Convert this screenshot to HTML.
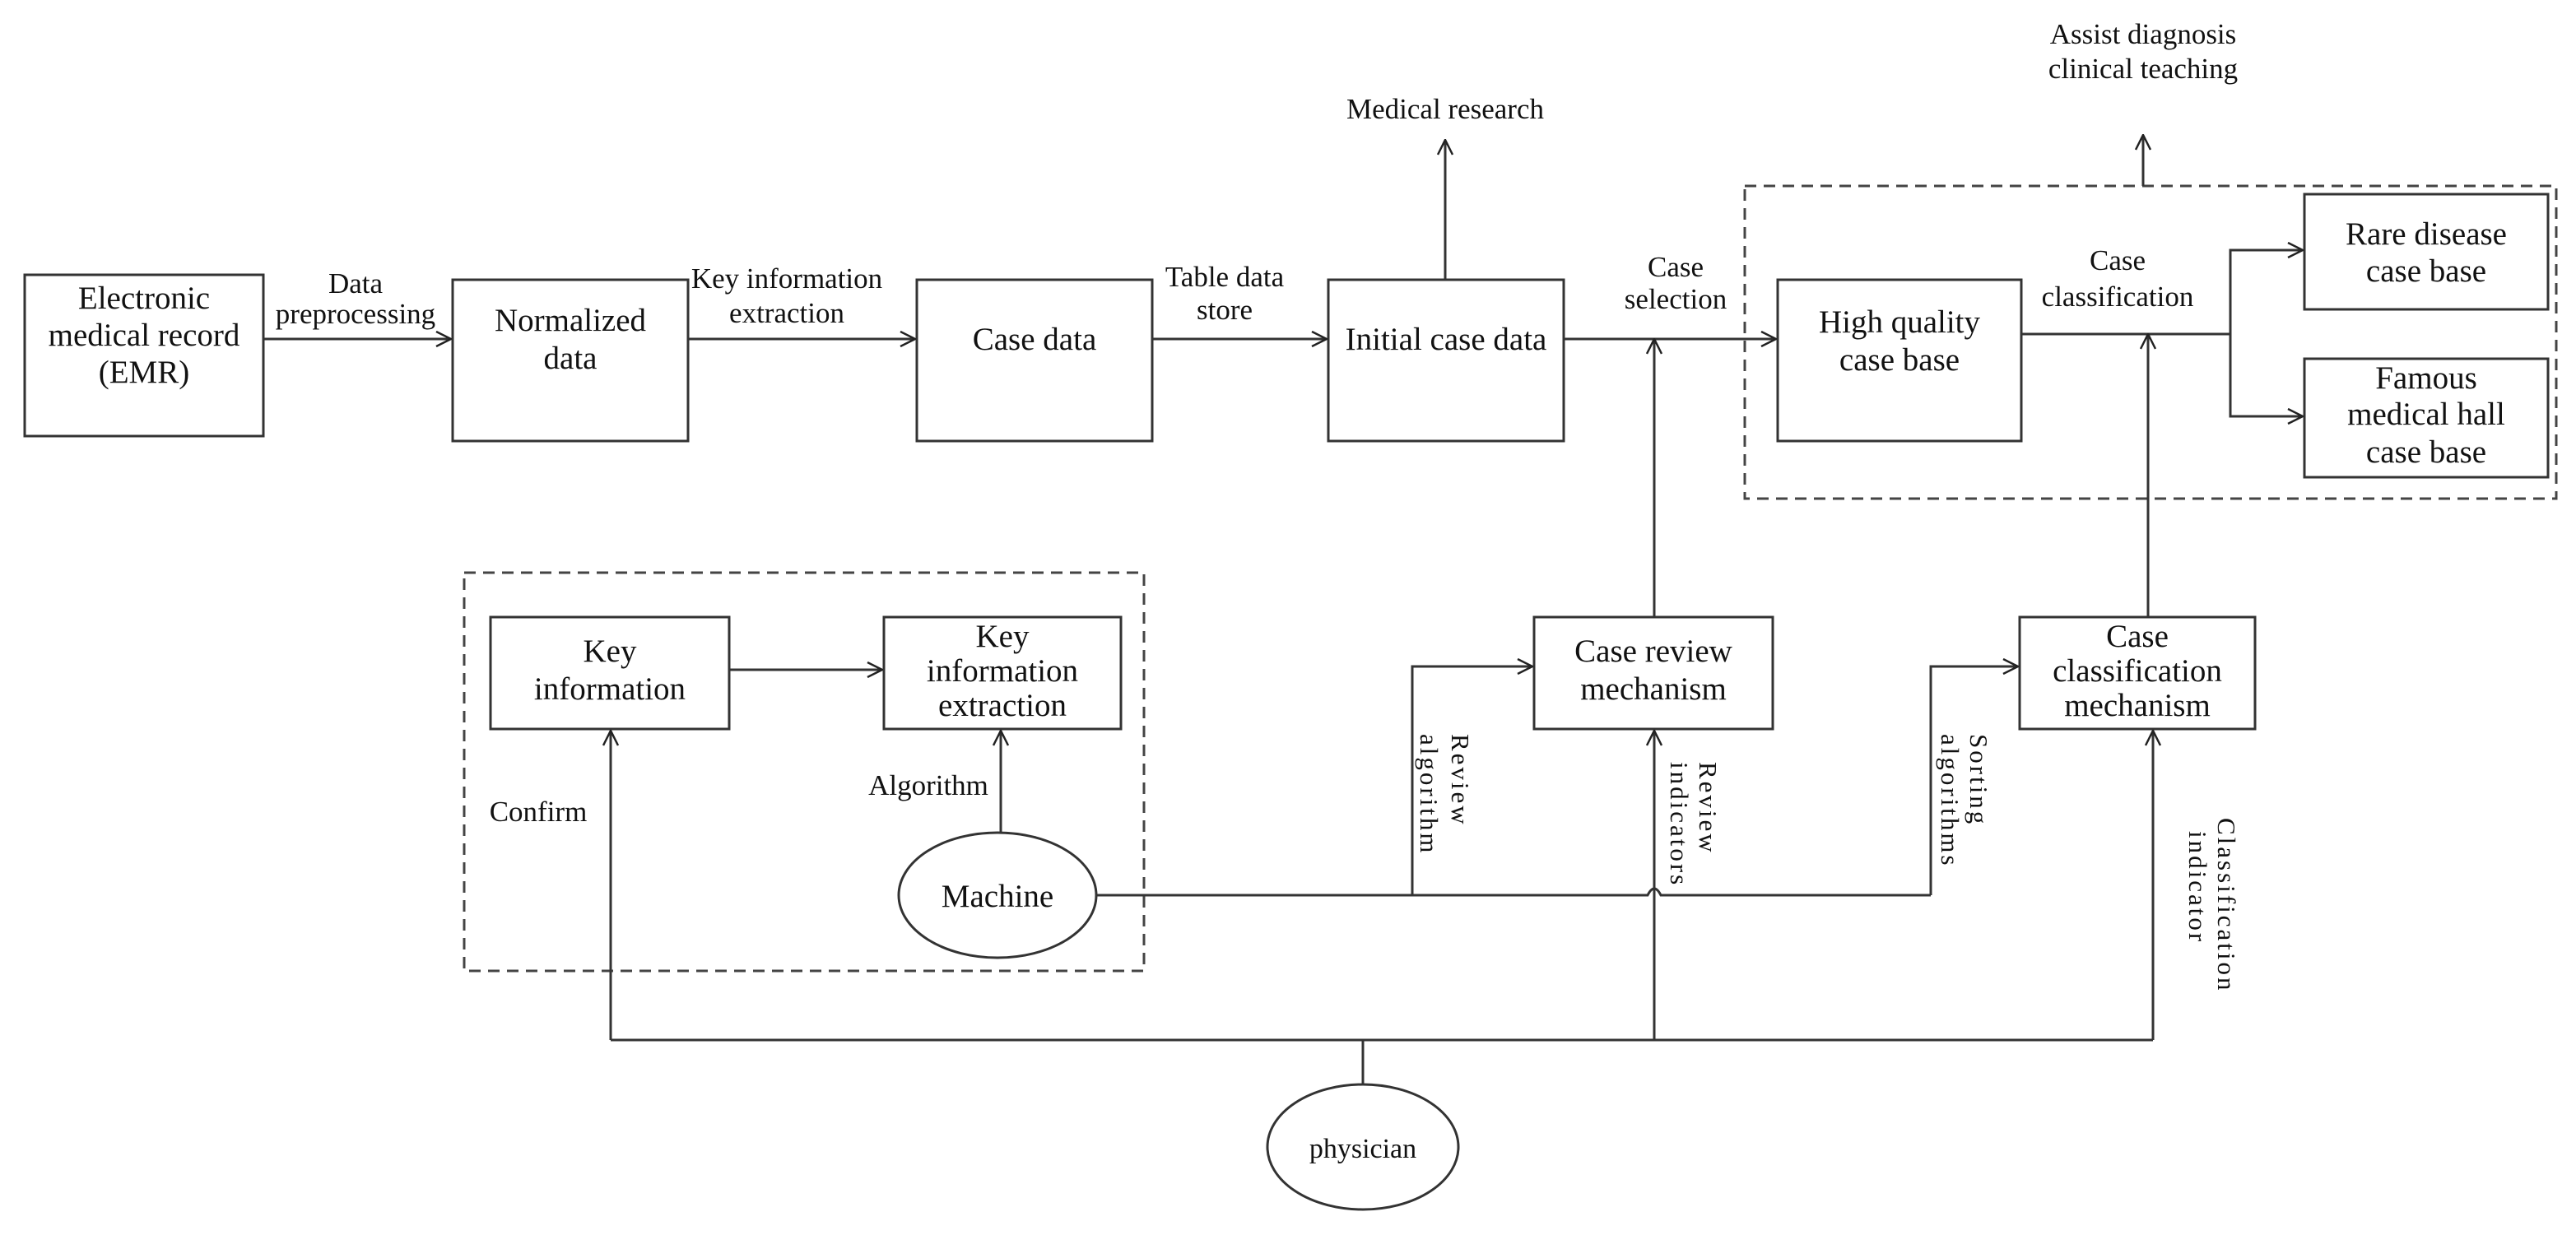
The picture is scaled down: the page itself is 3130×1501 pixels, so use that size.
<!DOCTYPE html>
<html><head><meta charset="utf-8"><style>
html,body{margin:0;padding:0;background:#fff;}
svg{display:block;}
text{font-family:"Liberation Serif",serif;fill:#111;}
.n{font-size:39px;}
.l{font-size:35px;}
.v{font-size:31px;letter-spacing:3px;}
</style></head><body>
<svg width="3130" height="1501" viewBox="0 0 3130 1501" xmlns="http://www.w3.org/2000/svg">
<defs>
<marker id="a" viewBox="0 0 20 20" refX="19" refY="10" markerWidth="20" markerHeight="20" markerUnits="userSpaceOnUse" orient="auto">
<path d="M1,1 L19,10 L1,19" fill="none" stroke="#222" stroke-width="2.5"/>
</marker>
</defs>
<g fill="none" stroke="#333" stroke-width="3">
<rect x="30" y="334" width="290" height="196"/>
<rect x="550" y="340" width="286" height="196"/>
<rect x="1114" y="340" width="286" height="196"/>
<rect x="1614" y="340" width="286" height="196"/>
<rect x="2160" y="340" width="296" height="196"/>
<rect x="2800" y="236" width="296" height="140"/>
<rect x="2800" y="436" width="296" height="144"/>
<rect x="596" y="750" width="290" height="136"/>
<rect x="1074" y="750" width="288" height="136"/>
<rect x="1864" y="750" width="290" height="136"/>
<rect x="2454" y="750" width="286" height="136"/>
<ellipse cx="1212" cy="1088" rx="120" ry="76"/>
<ellipse cx="1656" cy="1394" rx="116" ry="76"/>
</g>
<g fill="none" stroke="#444" stroke-width="3" stroke-dasharray="14,9">
<rect x="2120" y="226" width="986" height="380"/>
<rect x="564" y="696" width="826" height="484"/>
</g>
<g fill="none" stroke="#333" stroke-width="3">
<line x1="320" y1="412" x2="548" y2="412" marker-end="url(#a)"/>
<line x1="836" y1="412" x2="1112" y2="412" marker-end="url(#a)"/>
<line x1="1400" y1="412" x2="1612" y2="412" marker-end="url(#a)"/>
<line x1="1900" y1="412" x2="2158" y2="412" marker-end="url(#a)"/>
<line x1="1756" y1="340" x2="1756" y2="170" marker-end="url(#a)"/>
<line x1="2604" y1="226" x2="2604" y2="164" marker-end="url(#a)"/>
<line x1="2456" y1="406" x2="2710" y2="406"/>
<polyline points="2710,406 2710,304 2798,304" marker-end="url(#a)"/>
<polyline points="2710,406 2710,506 2798,506" marker-end="url(#a)"/>
<line x1="2010" y1="750" x2="2010" y2="412" marker-end="url(#a)"/>
<line x1="2610" y1="750" x2="2610" y2="406" marker-end="url(#a)"/>
<line x1="886" y1="814" x2="1072" y2="814" marker-end="url(#a)"/>
<line x1="1216" y1="1012" x2="1216" y2="888" marker-end="url(#a)"/>
<path d="M1332,1088 L2002,1088 Q2010,1072 2018,1088 L2346,1088"/>
<polyline points="1716,1088 1716,810 1862,810" marker-end="url(#a)"/>
<polyline points="2346,1088 2346,810 2452,810" marker-end="url(#a)"/>
<line x1="742" y1="1264" x2="2616" y2="1264"/>
<line x1="742" y1="1264" x2="742" y2="888" marker-end="url(#a)"/>
<line x1="2010" y1="1264" x2="2010" y2="888" marker-end="url(#a)"/>
<line x1="2616" y1="1264" x2="2616" y2="888" marker-end="url(#a)"/>
<line x1="1656" y1="1264" x2="1656" y2="1318"/>
</g>
<g class="n" text-anchor="middle">
<text x="175" y="375">Electronic</text>
<text x="175" y="420">medical record</text>
<text x="175" y="465">(EMR)</text>
<text x="693" y="402">Normalized</text>
<text x="693" y="448">data</text>
<text x="1257" y="425">Case data</text>
<text x="1757" y="425">Initial case data</text>
<text x="2308" y="404">High quality</text>
<text x="2308" y="450">case base</text>
<text x="2948" y="297">Rare disease</text>
<text x="2948" y="342">case base</text>
<text x="2948" y="472">Famous</text>
<text x="2948" y="516">medical hall</text>
<text x="2948" y="562">case base</text>
<text x="741" y="804">Key</text>
<text x="741" y="850">information</text>
<text x="1218" y="786">Key</text>
<text x="1218" y="828">information</text>
<text x="1218" y="870">extraction</text>
<text x="2009" y="804">Case review</text>
<text x="2009" y="850">mechanism</text>
<text x="2597" y="786">Case</text>
<text x="2597" y="828">classification</text>
<text x="2597" y="870">mechanism</text>
<text x="1212" y="1102">Machine</text>
<text x="1656" y="1407" style="font-size:34px">physician</text>
</g>
<g class="l" text-anchor="middle">
<text x="432" y="356">Data</text>
<text x="432" y="393">preprocessing</text>
<text x="956" y="350">Key information</text>
<text x="956" y="392">extraction</text>
<text x="1488" y="348">Table data</text>
<text x="1488" y="388">store</text>
<text x="2036" y="336">Case</text>
<text x="2036" y="375">selection</text>
<text x="2573" y="328">Case</text>
<text x="2573" y="372">classification</text>
<text x="1756" y="144">Medical research</text>
<text x="2604" y="53">Assist diagnosis</text>
<text x="2604" y="95">clinical teaching</text>
<text x="654" y="998">Confirm</text>
<text x="1128" y="966">Algorithm</text>
</g>
<g class="v">
<text transform="translate(1764,892) rotate(90)">Review</text>
<text transform="translate(1726,892) rotate(90)">algorithm</text>
<text transform="translate(2065,926) rotate(90)">Review</text>
<text transform="translate(2030,926) rotate(90)">indicators</text>
<text transform="translate(2394,892) rotate(90)">Sorting</text>
<text transform="translate(2359,892) rotate(90)">algorithms</text>
<text transform="translate(2695,994) rotate(90)">Classification</text>
<text transform="translate(2660,1010) rotate(90)">indicator</text>
</g>
</svg>
</body></html>
